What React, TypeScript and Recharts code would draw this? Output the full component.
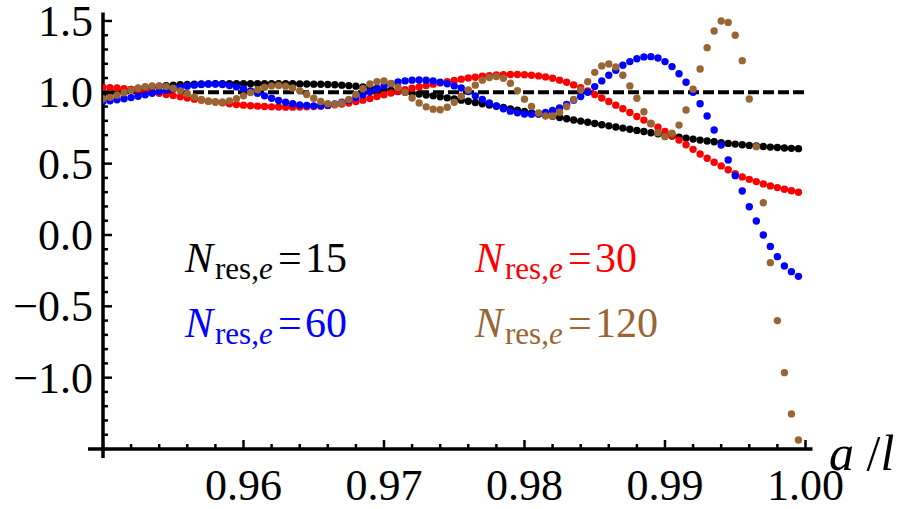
import React from 'react';
import { ScatterChart, Scatter, XAxis, YAxis, ReferenceLine } from 'recharts';

const xValues = [
  0.95, 0.9505, 0.951, 0.9515, 0.952, 0.9525, 0.953, 0.9535, 0.954, 0.9545,
  0.955, 0.9555, 0.956, 0.9565, 0.957, 0.9575, 0.958, 0.9585, 0.959, 0.9595,
  0.96, 0.9605, 0.961, 0.9615, 0.962, 0.9625, 0.963, 0.9635, 0.964, 0.9645,
  0.965, 0.9655, 0.966, 0.9665, 0.967, 0.9675, 0.968, 0.9685, 0.969, 0.9695,
  0.97, 0.9705, 0.971, 0.9715, 0.972, 0.9725, 0.973, 0.9735, 0.974, 0.9745,
  0.975, 0.9755, 0.976, 0.9765, 0.977, 0.9775, 0.978, 0.9785, 0.979, 0.9795,
  0.98, 0.9805, 0.981, 0.9815, 0.982, 0.9825, 0.983, 0.9835, 0.984, 0.9845,
  0.985, 0.9855, 0.986, 0.9865, 0.987, 0.9875, 0.988, 0.9885, 0.989, 0.9895,
  0.99, 0.9905, 0.991, 0.9915, 0.992, 0.9925, 0.993, 0.9935, 0.994, 0.9945,
  0.995, 0.9955, 0.996, 0.9965, 0.997, 0.9975, 0.998, 0.9985, 0.999, 0.9995,
];

const n15 = [
  0.985, 0.995, 1.005, 1.013, 1.02, 1.027, 1.033, 1.038, 1.042, 1.046,
  1.05, 1.053, 1.055, 1.057, 1.058, 1.059, 1.06, 1.06, 1.06, 1.06,
  1.06, 1.06, 1.06, 1.06, 1.06, 1.06, 1.06, 1.06, 1.059, 1.058,
  1.057, 1.056, 1.055, 1.053, 1.05, 1.047, 1.043, 1.038, 1.033, 1.027,
  1.02, 1.013, 1.006, 1.0, 0.994, 0.988, 0.981, 0.975, 0.968, 0.961,
  0.953, 0.945, 0.937, 0.929, 0.92, 0.911, 0.902, 0.893, 0.884, 0.874,
  0.865, 0.856, 0.848, 0.84, 0.832, 0.823, 0.815, 0.806, 0.798, 0.79,
  0.781, 0.773, 0.765, 0.757, 0.749, 0.741, 0.733, 0.725, 0.717, 0.709,
  0.701, 0.693, 0.686, 0.679, 0.672, 0.665, 0.659, 0.653, 0.647, 0.642,
  0.637, 0.632, 0.628, 0.624, 0.62, 0.616, 0.613, 0.61, 0.607, 0.605,
];

const n30 = [
  1.035, 1.033, 1.03, 1.025, 1.02, 1.015, 1.008, 1.0, 0.993, 0.985,
  0.977, 0.968, 0.96, 0.952, 0.945, 0.938, 0.932, 0.926, 0.92, 0.915,
  0.91, 0.906, 0.903, 0.9, 0.898, 0.897, 0.896, 0.896, 0.897, 0.898,
  0.9, 0.903, 0.907, 0.912, 0.918, 0.925, 0.935, 0.945, 0.957, 0.97,
  0.983, 0.995, 1.007, 1.018, 1.028, 1.038, 1.047, 1.057, 1.066, 1.075,
  1.083, 1.092, 1.1, 1.106, 1.112, 1.117, 1.121, 1.124, 1.125, 1.125,
  1.123, 1.12, 1.115, 1.108, 1.098, 1.085, 1.07, 1.052, 1.032, 1.01,
  0.985, 0.96, 0.935, 0.91, 0.885, 0.858, 0.83, 0.805, 0.78, 0.755,
  0.725, 0.695, 0.665, 0.632, 0.6, 0.568, 0.538, 0.51, 0.484, 0.457,
  0.43, 0.407, 0.39, 0.374, 0.358, 0.344, 0.332, 0.32, 0.31, 0.3,
];

const n60 = [
  0.935, 0.94, 0.947, 0.955, 0.963, 0.972, 0.982, 0.993, 1.005, 1.015,
  1.025, 1.035, 1.043, 1.05, 1.055, 1.058, 1.058, 1.055, 1.048, 1.038,
  1.025, 1.01, 0.993, 0.975, 0.958, 0.943, 0.93, 0.92, 0.912, 0.907,
  0.905, 0.906, 0.91, 0.918, 0.93, 0.945, 0.963, 0.983, 1.003, 1.025,
  1.045, 1.06, 1.072, 1.08, 1.085, 1.086, 1.085, 1.08, 1.07, 1.06,
  1.045, 1.03, 1.005, 0.975, 0.95, 0.925, 0.905, 0.885, 0.868, 0.856,
  0.848, 0.846, 0.85, 0.858, 0.872, 0.89, 0.915, 0.945, 0.97, 1.0,
  1.04, 1.08, 1.12, 1.155, 1.19, 1.215, 1.235, 1.248, 1.25, 1.24,
  1.215, 1.18, 1.13, 1.07, 1.0, 0.92, 0.834, 0.736, 0.63, 0.526,
  0.416, 0.308, 0.198, 0.098, 0.0, -0.08, -0.152, -0.217, -0.257, -0.29,
];

const n120 = [
  0.955, 0.965, 0.98, 0.997, 1.015, 1.03, 1.04, 1.045, 1.045, 1.04,
  1.028, 1.01, 0.99, 0.968, 0.95, 0.938, 0.932, 0.932, 0.94, 0.955,
  0.975, 0.998, 1.018, 1.035, 1.045, 1.048, 1.043, 1.03, 1.01, 0.985,
  0.958, 0.935, 0.92, 0.915, 0.925, 0.95, 0.985, 1.025, 1.058, 1.075,
  1.08, 1.062, 1.035, 1.0, 0.96, 0.925, 0.898, 0.882, 0.878, 0.895,
  0.93, 0.972, 1.016, 1.05, 1.085, 1.103, 1.11, 1.098, 1.063, 1.012,
  0.952, 0.9, 0.855, 0.834, 0.834, 0.86, 0.9, 0.95, 1.016, 1.074,
  1.14, 1.185, 1.198, 1.178, 1.12, 1.045, 0.958, 0.864, 0.783, 0.717,
  0.689, 0.713, 0.77, 0.876, 1.021, 1.163, 1.313, 1.43, 1.5, 1.49,
  1.4, 1.222, 0.953, 0.619, 0.226, -0.194, -0.6, -0.965, -1.254, -1.437,
];

const seriesNames = ['15', '30', '60', '120'];
const seriesColors = ['#000000', '#ff0000', '#0000ff', '#996633'];

const xMajorTicks = [0.96, 0.97, 0.98, 0.99, 1.0];
const xTickLabels = ['0.96', '0.97', '0.98', '0.99', '1.00'];
const xAllTicks = [
  0.95, 0.952, 0.954, 0.956, 0.958, 0.96, 0.962, 0.964, 0.966, 0.968,
  0.97, 0.972, 0.974, 0.976, 0.978, 0.98, 0.982, 0.984, 0.986, 0.988,
  0.99, 0.992, 0.994, 0.996, 0.998, 1.0,
];
const yMajorTicks = [-1.0, -0.5, 0.0, 0.5, 1.0, 1.5];
const yTickLabels = ['\u22121.0', '\u22120.5', '0.0', '0.5', '1.0', '1.5'];
const yAllTicks = [
  -1.5, -1.4, -1.3, -1.2, -1.1, -1.0, -0.9, -0.8, -0.7, -0.6,
  -0.5, -0.4, -0.3, -0.2, -0.1, 0.0, 0.1, 0.2, 0.3, 0.4,
  0.5, 0.6, 0.7, 0.8, 0.9, 1.0, 1.1, 1.2, 1.3, 1.4, 1.5,
];

const FONT = "'Liberation Serif', 'Times New Roman', serif";

const makeData = (vals: number[]) => xValues.map((x, i) => ({ x, y: vals[i] }));
const allSeries = [n15, n30, n60, n120];

const near = (a: number, b: number) => Math.abs(a - b) < 1e-9;

const XTick = (props: any) => {
  const { x, y, payload } = props;
  const v = payload.value;
  const idx = xMajorTicks.findIndex((t) => near(t, v));
  const major = idx >= 0;
  return (
    <g>
      <line x1={x} x2={x} y1={y} y2={y - (major ? 9 : 5)} stroke="#000" strokeWidth={2.5} />
      {major && (
        <text x={x} y={y + 51} textAnchor="middle" fontSize={44} style={{ fontFamily: FONT }} fill="#000">
          {xTickLabels[idx]}
        </text>
      )}
      {near(v, 0.95) && <line x1={x - 15} x2={x} y1={y} y2={y} stroke="#000" strokeWidth={3.5} />}
    </g>
  );
};

const YTick = (props: any) => {
  const { x, y, payload } = props;
  const v = payload.value;
  const idx = yMajorTicks.findIndex((t) => near(t, v));
  const major = idx >= 0;
  return (
    <g>
      <line x1={x} x2={x + (major ? 9 : 5)} y1={y} y2={y} stroke="#000" strokeWidth={2.5} />
      {major && (
        <text x={x - 10} y={y + 15} textAnchor="end" fontSize={44} style={{ fontFamily: FONT }} fill="#000">
          {yTickLabels[idx]}
        </text>
      )}
      {near(v, -1.5) && <line x1={x} x2={x} y1={y} y2={y + 9} stroke="#000" strokeWidth={3.5} />}
    </g>
  );
};

const dot = (color: string) => (p: any) => <circle cx={p.cx} cy={p.cy} r={3.7} fill={color} />;

const LegendLabel = ({ x, y, color, value }: { x: number; y: number; color: string; value: string }) => (
  <text x={x} y={y} fill={color} style={{ fontFamily: FONT }} fontSize={42}>
    <tspan fontStyle="italic">N</tspan>
    <tspan fontSize={31} dy={7} dx={2}>res,</tspan>
    <tspan fontSize={31} fontStyle="italic">e</tspan>
    <tspan x={x + 93} y={y}>=</tspan>
    <tspan x={x + 120} y={y}>{value}</tspan>
  </text>
);

export default function App() {
  return (
    <div style={{ position: 'absolute', left: 0, top: 0, width: 905, height: 509, background: '#fff' }}>
      <ScatterChart width={905} height={509} margin={{ top: 12.4, right: 92.5, bottom: 30, left: 43 }}>
        <XAxis
          type="number"
          dataKey="x"
          domain={[0.95, 1.0005]}
          ticks={xAllTicks}
          interval={0}
          tickSize={0}
          tickMargin={0}
          tickLine={false}
          axisLine={{ stroke: '#000', strokeWidth: 3.5 }}
          height={30}
          allowDataOverflow
          tick={<XTick />}
        />
        <YAxis
          type="number"
          dataKey="y"
          domain={[-1.5, 1.56]}
          ticks={yAllTicks}
          interval={0}
          tickSize={0}
          tickMargin={0}
          tickLine={false}
          axisLine={{ stroke: '#000', strokeWidth: 3.5 }}
          width={60}
          allowDataOverflow
          tick={<YTick />}
        />
        {allSeries.map((vals, k) => (
          <Scatter
            key={seriesNames[k]}
            name={seriesNames[k]}
            data={makeData(vals)}
            fill={seriesColors[k]}
            shape={dot(seriesColors[k])}
            isAnimationActive={false}
          />
        ))}
        <ReferenceLine
          segment={[{ x: 0.95, y: 1 }, { x: 1.0, y: 1 }]}
          stroke="#000"
          strokeWidth={4}
          strokeDasharray="11 4"
        />
      </ScatterChart>
      <svg width={905} height={509} style={{ position: 'absolute', left: 0, top: 0, pointerEvents: 'none' }}>
        <LegendLabel x={185} y={272} color={seriesColors[0]} value={seriesNames[0]} />
        <LegendLabel x={475} y={272} color={seriesColors[1]} value={seriesNames[1]} />
        <LegendLabel x={185} y={337} color={seriesColors[2]} value={seriesNames[2]} />
        <LegendLabel x={475} y={337} color={seriesColors[3]} value={seriesNames[3]} />
        <text x={829} y={470} style={{ fontFamily: FONT }} fontSize={50} fill="#000">
          <tspan fontStyle="italic">a</tspan>
          <tspan> /</tspan>
          <tspan fontStyle="italic">l</tspan>
        </text>
      </svg>
    </div>
  );
}
